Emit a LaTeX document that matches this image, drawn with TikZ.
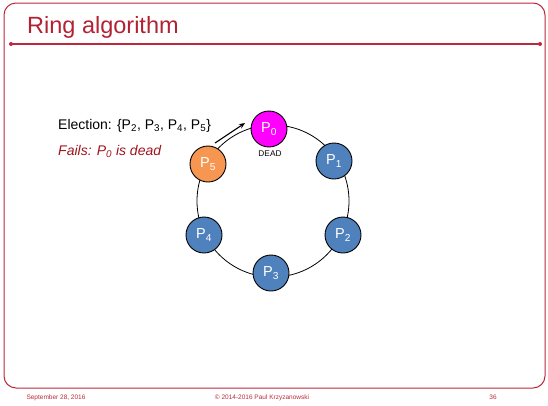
\documentclass[tikz,border=0pt]{standalone}
\usepackage{fontspec}
\setmainfont{Liberation Sans}
\usetikzlibrary{arrows.meta}
\definecolor{framered}{RGB}{190,40,60}
\definecolor{titlered}{RGB}{178,34,52}
\definecolor{failred}{RGB}{160,20,30}
\definecolor{procblue}{RGB}{79,129,189}
\definecolor{deadmag}{RGB}{255,0,255}
\definecolor{electorange}{RGB}{247,150,80}
\begin{document}
\begin{tikzpicture}[x=1pt,y=-1pt,
  proc/.style={circle,draw=black,line width=0.9pt,minimum size=36pt,inner sep=0pt,text=white,font=\fontsize{14.5}{16}\selectfont},
  footer/.style={text=framered,font=\fontsize{6.5}{7}\selectfont,anchor=base}]
\useasboundingbox (0,0) rectangle (548,405);
\fill[white] (0,0) rectangle (548,405);
% frame
\draw[framered, line width=1pt, rounded corners=12pt] (4,3) rectangle (545,388);
\coordinate (tl) at (11,44);
\coordinate (tr) at (540,44);
\draw[framered, line width=1.2pt] (tl) -- (tr);
\fill[framered] (tl) circle[radius=2pt] (tr) circle[radius=2pt];
\node[anchor=base west, text=titlered, font=\fontsize{23.5}{26}\selectfont, inner sep=0pt] (title) at (27,33) {Ring algorithm};
% ring
\draw[line width=0.8pt] (273,201) circle[radius=76pt];
% processes
\node[proc, fill=deadmag] (p0) at (269,129) {P\textsubscript{0}};
\node[proc, fill=procblue] (p1) at (334,161) {P\textsubscript{1}};
\node[proc, fill=procblue] (p2) at (343,235) {P\textsubscript{2}};
\node[proc, fill=procblue] (p3) at (271,273) {P\textsubscript{3}};
\node[proc, fill=procblue] (p4) at (204,235) {P\textsubscript{4}};
\node[proc, fill=electorange] (p5) at (208,164) {P\textsubscript{5}};
\node[font=\fontsize{8.3}{9}\selectfont, inner sep=0pt] (dead) at (270,154) {DEAD};
% arrow
\coordinate (a1) at (215,143);
\coordinate (a2) at (245,123);
\draw[-{Stealth[length=6pt,width=5pt]}, line width=1.1pt] (a1) -- (a2);
% texts
\node[anchor=base west, inner sep=0pt, font=\fontsize{14}{16}\selectfont] (elect) at (58,129) {Election: \{P\textsubscript{2}, P\textsubscript{3}, P\textsubscript{4}, P\textsubscript{5}\}};
\node[anchor=base west, inner sep=0pt, text=failred, font=\fontsize{14}{16}\selectfont\itshape] (fails) at (58,155) {Fails: P\textsubscript{0} is dead};
% footer
\node[footer] (date) at (56,399) {September 28, 2016};
\node[footer] (copy) at (262,399) {\textcopyright{} 2014-2016 Paul Krzyzanowski};
\node[footer] (page) at (493,399) {36};
\end{tikzpicture}
\end{document}
